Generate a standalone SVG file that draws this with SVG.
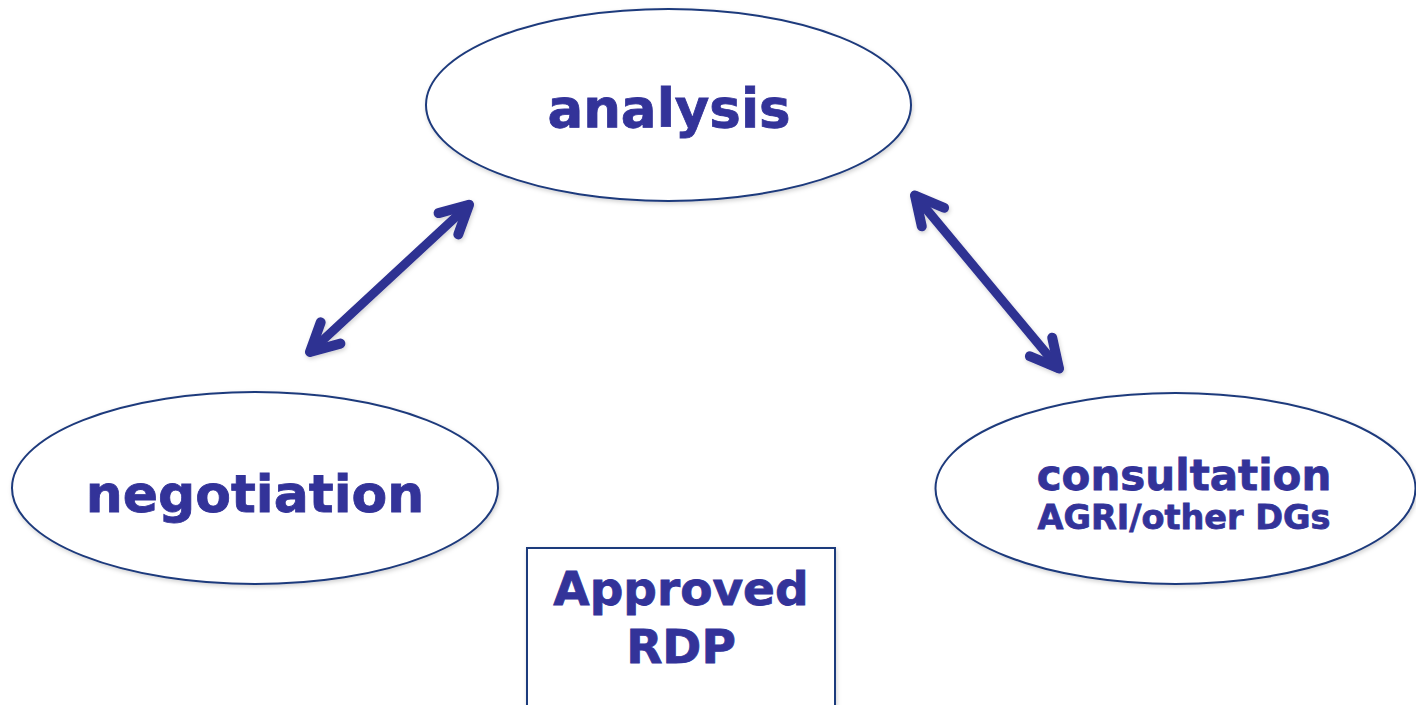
<svg xmlns="http://www.w3.org/2000/svg" width="1416" height="705" viewBox="0 0 1416 705">
  <style>
    .shape { fill: #ffffff; stroke: #1f3a7c; stroke-width: 2; filter: url(#soft); }
    .label { font-family: "DejaVu Sans", Verdana, sans-serif; font-weight: bold; fill: #333399; stroke: #333399; stroke-width: 0.8; text-anchor: middle; }
    .link { fill: none; stroke: #2e3192; stroke-width: 9; stroke-linecap: round; filter: url(#soft); }
  </style>
  <defs>
    <filter id="soft" x="-10%" y="-10%" width="120%" height="130%">
      <feDropShadow dx="1" dy="2" stdDeviation="2" flood-color="#000000" flood-opacity="0.18"/>
    </filter>
    <marker id="chevron" markerUnits="userSpaceOnUse" viewBox="-45 -30 55 60" refX="0" refY="0" markerWidth="55" markerHeight="60" orient="auto-start-reverse" overflow="visible">
      <path d="M -28,-14.5 L 0,0 L -28,14.5" fill="none" stroke="#2e3192" stroke-width="10" stroke-linecap="round" stroke-linejoin="round"/>
    </marker>
  </defs>

  <rect width="1416" height="705" fill="#ffffff"/>

  <g id="connectors">
    <line class="link" x1="310" y1="352" x2="469" y2="204.7" marker-start="url(#chevron)" marker-end="url(#chevron)"/>
    <line class="link" x1="915" y1="195.5" x2="1059" y2="368.5" marker-start="url(#chevron)" marker-end="url(#chevron)"/>
  </g>

  <g id="analysis">
    <ellipse class="shape" cx="668.5" cy="105" rx="242.5" ry="96"/>
    <text class="label" x="669" y="127" font-size="53">analysis</text>
  </g>

  <g id="negotiation">
    <ellipse class="shape" cx="255" cy="488" rx="243" ry="96"/>
    <text class="label" x="255" y="512" font-size="52">negotiation</text>
  </g>

  <g id="consultation">
    <ellipse class="shape" cx="1175.5" cy="488.5" rx="240" ry="95.5"/>
    <text class="label" x="1184" y="490" font-size="42">consultation</text>
    <text class="label" x="1184" y="529" font-size="33.5">AGRI/other DGs</text>
  </g>

  <g id="approved-rdp">
    <rect class="shape" x="527" y="548" width="308" height="170"/>
    <text class="label" x="681" y="605" font-size="47">Approved</text>
    <text class="label" x="681" y="663" font-size="47">RDP</text>
  </g>
</svg>
